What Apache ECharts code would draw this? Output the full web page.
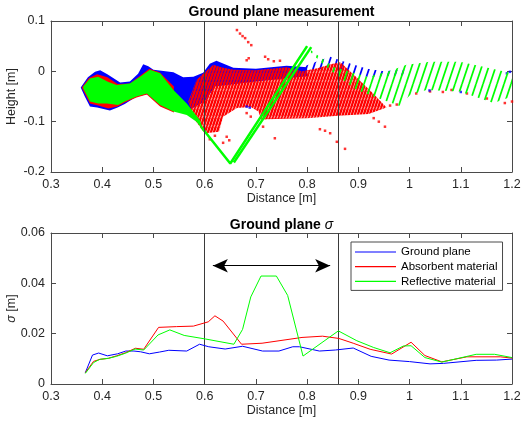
<!DOCTYPE html>
<html><head><meta charset="utf-8">
<script src="https://cdn.jsdelivr.net/npm/echarts@6/dist/echarts.min.js"></script>
<style>html,body{margin:0;background:#fff}#c{width:524px;height:423px}</style>
</head><body><div id="c"></div>
<script>
// ---------- tick definitions ----------
const xTicks = [0.3,0.4,0.5,0.6,0.7,0.8,0.9,1.0,1.1,1.2];
const heightTicks = [-0.2,-0.1,0,0.1];
const sigmaTicks = [0,0.02,0.04,0.06];
const markerX = [0.6, 0.857];
const arrowStart = [0.616, 0.047];
const arrowEnd = [0.845, 0.047];

// ---------- bottom plot: sigma lines ----------
const groundX = [0.367,0.381,0.393,0.410,0.430,0.446,0.462,0.475,0.492,0.512,0.530,0.565,0.590,0.608,0.640,0.674,0.713,0.745,0.772,0.785,0.824,0.855,0.890,0.925,0.960,1.000,1.040,1.066,1.130,1.170,1.200];
const groundY = [0.0045,0.0115,0.0123,0.0112,0.0120,0.0131,0.0131,0.0128,0.0120,0.0127,0.0134,0.0131,0.0158,0.0148,0.0139,0.0150,0.0131,0.0131,0.0148,0.0148,0.0131,0.0135,0.0143,0.0110,0.0095,0.0089,0.0080,0.0082,0.0094,0.0095,0.0099];
const absX = [0.367,0.383,0.396,0.412,0.428,0.445,0.465,0.481,0.510,0.545,0.578,0.607,0.620,0.636,0.672,0.712,0.790,0.830,0.862,0.890,0.923,0.965,1.003,1.030,1.063,1.112,1.177,1.200];
const absY = [0.0045,0.0090,0.0098,0.0102,0.0112,0.0124,0.0142,0.0138,0.0225,0.0228,0.0230,0.0247,0.0271,0.0250,0.0158,0.0162,0.0185,0.0190,0.0181,0.0162,0.0138,0.0119,0.0166,0.0113,0.0088,0.0108,0.0108,0.0103];
const reflX = [0.367,0.383,0.395,0.412,0.428,0.445,0.464,0.481,0.509,0.532,0.560,0.601,0.657,0.674,0.690,0.710,0.740,0.762,0.792,0.861,0.897,0.930,0.962,0.988,1.003,1.030,1.063,1.130,1.166,1.200];
const reflY = [0.0042,0.0085,0.0098,0.0102,0.0110,0.0122,0.0139,0.0135,0.0195,0.0215,0.0193,0.0179,0.0158,0.0217,0.0346,0.0429,0.0429,0.0352,0.0111,0.0211,0.0172,0.0145,0.0124,0.0151,0.0152,0.0105,0.0087,0.0118,0.0118,0.0105];

const blueDense = [[0.358,-0.032],[0.372,-0.012],[0.386,-0.001],[0.396,0.002],[0.41,-0.006],[0.435,-0.022],[0.454,-0.020],[0.47,-0.005],[0.48,0.014],[0.49,0.010],[0.50,0.003],[0.539,-0.002],[0.558,-0.012],[0.578,-0.011],[0.597,-0.003],[0.61,0.015],[0.623,0.021],[0.656,0.007],[0.70,0.005],[0.76,0.011],[0.80,0.008],[0.80,-0.01],[0.70,-0.02],[0.62,-0.03],[0.60,-0.06],[0.565,-0.08],[0.54,-0.075],[0.513,-0.06],[0.49,-0.045],[0.467,-0.050],[0.444,-0.065],[0.43,-0.072],[0.415,-0.078],[0.39,-0.072],[0.376,-0.070],[0.366,-0.050]];
const blueStripe = [[0.79,0.008],[0.82,0.020],[0.845,0.029],[0.87,0.020],[0.917,0.005],[0.95,0.000],[0.99,0.004],[0.99,-0.008],[0.95,-0.010],[0.92,-0.012],[0.87,0.002],[0.84,0.008],[0.80,-0.004]];
const redLeft = [[0.360,-0.032],[0.374,-0.013],[0.390,-0.006],[0.410,-0.012],[0.430,-0.025],[0.454,-0.024],[0.474,-0.009],[0.492,0.005],[0.512,-0.002],[0.54,-0.03],[0.54,-0.082],[0.513,-0.07],[0.487,-0.046],[0.467,-0.052],[0.444,-0.062],[0.43,-0.070],[0.412,-0.074],[0.392,-0.068],[0.376,-0.064]];
const redMain = [[0.568,-0.060],[0.584,-0.017],[0.597,-0.005],[0.617,0.013],[0.632,0.008],[0.656,0.003],[0.70,0.002],[0.76,0.008],[0.79,0.000],[0.82,0.006],[0.85,0.015],[0.865,0.018],[0.90,-0.015],[0.93,-0.045],[0.955,-0.072],[0.92,-0.085],[0.86,-0.088],[0.80,-0.093],[0.72,-0.095],[0.711,-0.097],[0.705,-0.080],[0.69,-0.071],[0.663,-0.073],[0.636,-0.090],[0.628,-0.120],[0.60,-0.123],[0.58,-0.095]];
const redDots = [[0.663,0.082],[0.669,0.075],[0.674,0.070],[0.679,0.066],[0.685,0.058],[0.691,0.052],[0.682,0.022],[0.686,0.026],[0.718,0.029],[0.724,0.024],[0.735,0.020],[0.747,0.021],[0.714,-0.110],[0.737,-0.133],[0.858,-0.140],[0.874,-0.154],[0.845,-0.123],[0.835,-0.118],[0.825,-0.115],[0.952,-0.110],[0.93,-0.093],[0.94,-0.100],[0.682,-0.083],[0.690,-0.090],[0.643,-0.130],[0.648,-0.137],[0.636,-0.142],[0.62,-0.128],[0.61,-0.135],[1.013,-0.044],[1.040,-0.040],[1.065,-0.041],[1.082,-0.037],[1.112,-0.044],[1.151,-0.054],[1.186,-0.063],[1.200,-0.060],[0.962,-0.068],[0.975,-0.066]];
const blueDots = [[1.039,-0.038],[1.10,-0.041],[1.196,-0.001],[1.19,-0.004],[0.682,-0.070],[0.688,-0.072]];
const greenLeft = [[0.363,-0.030],[0.376,-0.014],[0.392,-0.011],[0.412,-0.021],[0.428,-0.027],[0.454,-0.024],[0.474,-0.011],[0.493,0.003],[0.513,-0.004],[0.539,-0.037],[0.565,-0.064],[0.591,-0.097],[0.597,-0.117],[0.584,-0.100],[0.565,-0.087],[0.539,-0.080],[0.513,-0.067],[0.487,-0.044],[0.467,-0.050],[0.444,-0.060],[0.431,-0.067],[0.409,-0.064],[0.392,-0.064],[0.376,-0.060],[0.363,-0.034]];
const greenV = [[0.593,-0.110],[0.650,-0.183],[0.800,0.050]];
const greenV2 = [[0.657,-0.181],[0.808,0.048]];
const greenRight = [[0.800,0.050],[0.810,0.040],[0.851,0.009],[0.917,-0.011],[0.96,0.000],[0.994,0.013],[1.040,0.019],[1.098,0.019],[1.144,0.009],[1.200,-0.004],[1.200,-0.050],[1.164,-0.063],[1.098,-0.040],[1.033,-0.037],[1.001,-0.047],[0.981,-0.069],[0.930,-0.050],[0.897,-0.037],[0.860,-0.010],[0.830,0.015],[0.805,0.040]];

// ---------- styling helpers ----------
const FONT = 'Liberation Sans, Arial, sans-serif';
const TXT = '#262626';
function stripes(color, period, width, slope) {
  const w = period, h = Math.round(period * slope);
  const c = document.createElement('canvas'); c.width = w; c.height = h;
  const ctx = c.getContext('2d');
  ctx.strokeStyle = color; ctx.lineWidth = width;
  for (let k = -1; k <= 1; k++) { ctx.beginPath(); ctx.moveTo(k * w, h); ctx.lineTo(k * w + w, 0); ctx.stroke(); }
  return { image: c, repeat: 'repeat' };
}
function poly(pts, fill, z) {
  return {
    type: 'custom', xAxisIndex: 0, yAxisIndex: 0, z: z, silent: true,
    data: [0],
    renderItem: function (params, api) {
      return { type: 'polygon', shape: { points: pts.map(p => api.coord(p)) }, style: { fill: fill, stroke: null } };
    }
  };
}
function toPairs(xs, ys) { return xs.map((x, i) => [x, ys[i]]); }

const chart = echarts.init(document.getElementById('c'));

function mkX(grid, pos, show, name) {
  return {
    type: 'value', gridIndex: grid, position: pos, min: xTicks[0], max: xTicks[xTicks.length - 1], interval: 0.1,
    name: name || '', nameLocation: 'middle', nameGap: 20, nameMoveOverlap: false,
    nameTextStyle: { fontFamily: FONT, fontSize: 12.5, color: TXT },
    axisLine: { show: true, onZero: false, lineStyle: { color: '#4a4a4a', width: 1 } },
    axisTick: { show: true, inside: true, length: 5, lineStyle: { color: '#4a4a4a' } },
    axisLabel: { show: show, margin: 6, fontFamily: FONT, fontSize: 12.5, color: TXT },
    splitLine: { show: false }
  };
}
function mkY(grid, pos, ticks, show, name, rich) {
  return {
    type: 'value', gridIndex: grid, position: pos, min: ticks[0], max: ticks[ticks.length - 1], interval: ticks[1] - ticks[0],
    name: name || '', nameLocation: 'middle', nameGap: 33, nameMoveOverlap: false,
    nameTextStyle: { fontFamily: FONT, fontSize: 12.5, color: TXT, rich: rich },
    axisLine: { show: true, onZero: false, lineStyle: { color: '#4a4a4a', width: 1 } },
    axisTick: { show: true, inside: true, length: 5, lineStyle: { color: '#4a4a4a' } },
    axisLabel: { show: show, margin: 6, fontFamily: FONT, fontSize: 12.5, color: TXT },
    splitLine: { show: false }
  };
}
const vline = (xi, yi) => ({
  type: 'line', xAxisIndex: xi, yAxisIndex: yi, data: [], silent: true,
  markLine: { silent: true, symbol: 'none', label: { show: false }, lineStyle: { color: '#3a3a3a', width: 1, type: 'solid' },
    data: markerX.map(v => ({ xAxis: v })) }
});

const option = {
  animation: false,
  backgroundColor: '#fff',
  title: [
    { text: 'Ground plane measurement', left: 281.5, top: 5, textAlign: 'center', padding: 0,
      textStyle: { fontFamily: FONT, fontSize: 14, fontWeight: 'bold', color: '#000' } },
    { text: 'Ground plane {s|σ}', left: 281.5, top: 218, textAlign: 'center', padding: 0,
      textStyle: { fontFamily: FONT, fontSize: 14, fontWeight: 'bold', color: '#000',
        rich: { s: { fontFamily: FONT, fontSize: 14, fontStyle: 'italic', fontWeight: 'normal', color: '#000' } } } }
  ],
  grid: [
    { left: 51, top: 21, width: 461, height: 151, containLabel: false, outerBoundsMode: 'none' },
    { left: 51, top: 233, width: 461, height: 151, containLabel: false, outerBoundsMode: 'none' }
  ],
  xAxis: [mkX(0, 'bottom', true, 'Distance [m]'), mkX(0, 'top', false), mkX(1, 'bottom', true, 'Distance [m]'), mkX(1, 'top', false)],
  yAxis: [mkY(0, 'left', heightTicks, true, 'Height [m]'), mkY(0, 'right', heightTicks, false),
          mkY(1, 'left', sigmaTicks, true, '{s|σ} [m]', { s: { fontFamily: FONT, fontSize: 12.5, fontStyle: 'italic', color: TXT } }),
          mkY(1, 'right', sigmaTicks, false)],
  legend: {
    show: true, orient: 'vertical', left: 351, top: 242, padding: [4, 5, 3, 4],
    icon: 'rect', itemWidth: 41, itemHeight: 1.2, itemGap: 2.7,
    backgroundColor: '#fff', borderColor: '#4a4a4a', borderWidth: 1,
    textStyle: { fontFamily: FONT, fontSize: 11.5, color: '#000', lineHeight: 12 },
    data: [
      { name: 'Ground plane', itemStyle: { color: '#0000ff' } },
      { name: 'Absorbent material', itemStyle: { color: '#ff0000' } },
      { name: 'Reflective material', itemStyle: { color: '#00ff00' } }
    ]
  },
  series: [
    poly(blueDense, '#0000ff', 1),
    poly(blueStripe, stripes('#0000ff', 7, 1.7, 3), 1),
    poly(redLeft, '#ff0000', 2),
    poly(redMain, stripes('#ff0000', 3, 2.4, 3), 3),
    { type: 'scatter', xAxisIndex: 0, yAxisIndex: 0, z: 3, silent: true, symbol: 'rect', symbolSize: 2.5,
      itemStyle: { color: '#ff0000' }, data: redDots },
    { type: 'scatter', xAxisIndex: 0, yAxisIndex: 0, z: 3, silent: true, symbol: 'rect', symbolSize: 2.5,
      itemStyle: { color: '#0000ff' }, data: blueDots },
    poly(greenLeft, '#00ff00', 4),
    poly(greenRight, stripes('#00ff00', 7, 1.7, 3), 4),
    { type: 'line', xAxisIndex: 0, yAxisIndex: 0, z: 4, silent: true, symbol: 'none', data: greenV,
      lineStyle: { color: '#00ff00', width: 2.5 } },
    { type: 'line', xAxisIndex: 0, yAxisIndex: 0, z: 4, silent: true, symbol: 'none', data: greenV2,
      lineStyle: { color: '#00ff00', width: 2.5 } },
    vline(0, 0),
    vline(2, 2),
    { name: 'Ground plane', type: 'line', xAxisIndex: 2, yAxisIndex: 2, symbol: 'none', data: toPairs(groundX, groundY),
      lineStyle: { color: '#0000ff', width: 1 }, itemStyle: { color: '#0000ff' }, z: 5 },
    { name: 'Absorbent material', type: 'line', xAxisIndex: 2, yAxisIndex: 2, symbol: 'none', data: toPairs(absX, absY),
      lineStyle: { color: '#ff0000', width: 1 }, itemStyle: { color: '#ff0000' }, z: 5 },
    { name: 'Reflective material', type: 'line', xAxisIndex: 2, yAxisIndex: 2, symbol: 'none', data: toPairs(reflX, reflY),
      lineStyle: { color: '#00ff00', width: 1 }, itemStyle: { color: '#00ff00' }, z: 5 },
    { type: 'line', xAxisIndex: 2, yAxisIndex: 2, data: [], silent: true,
      markLine: { silent: true, symbol: ['arrow', 'arrow'], symbolSize: [10, 15], label: { show: false },
        lineStyle: { color: '#000', width: 1, type: 'solid' },
        data: [[{ coord: arrowStart }, { coord: arrowEnd }]] } }
  ]
};
chart.setOption(option);
</script></body></html>
